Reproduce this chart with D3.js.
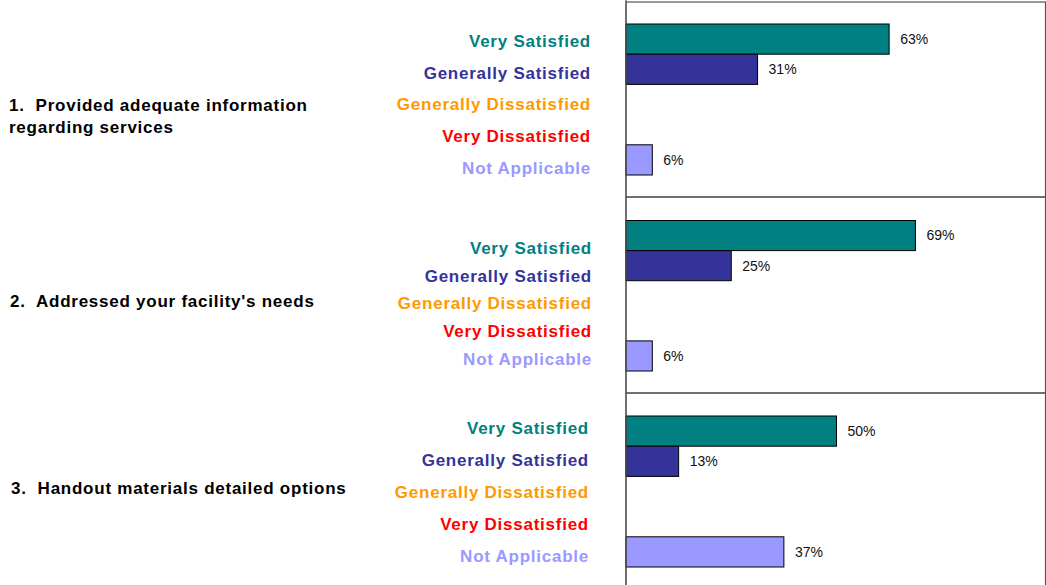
<!DOCTYPE html>
<html>
<head>
<meta charset="utf-8">
<script src="https://cdn.jsdelivr.net/npm/d3@7"></script>
<style>
	body { margin: 0; background: #fff; }
	svg { display: block; font-family: 'Liberation Sans', Arial, sans-serif; }
	.question { white-space: pre; }
</style>
</head>
<body>
<svg id="chart" width="1046" height="585"></svg>
<script>
// answer categories and their colours
var categories = ['Very Satisfied', 'Generally Satisfied', 'Generally Dissatisfied', 'Very Dissatisfied', 'Not Applicable'];
var categoryColors = ['#008080', '#333399', '#ff9900', '#ff0000', '#9999ff'];

var questions = [
	['1.  Provided adequate information', 'regarding services'],
	["2.  Addressed your facility's needs"],
	['3.  Handout materials detailed options']
];

// share of answers (%)
var q1Values = [62.5, 31.25, 0, 0, 6.25];
var q2Values = [68.75, 25, 0, 0, 6.25];
var q3Values = [50, 12.5, 0, 0, 37.5];

// printed value labels
var q1Labels = ['63%', '31%', '', '', '6%'];
var q2Labels = ['69%', '25%', '', '', '6%'];
var q3Labels = ['50%', '13%', '', '', '37%'];

var values = [q1Values, q2Values, q3Values];
var valueLabels = [q1Labels, q2Labels, q3Labels];

// panel layout
var panels = [
	{ top: 2, bottom: 197, bars: [24, 175], labels: [41, 168], labelRight: 591, qx: 9, qy: 116 },
	{ top: 197, bottom: 393, bars: [220.5, 371], labels: [248, 359], labelRight: 592, qx: 10, qy: 301 },
	{ top: 393, bottom: 600, bars: [416, 567], labels: [428, 556], labelRight: 589, qx: 11, qy: 488 }
];

var lineHeight = 22;

var svg = d3.select('#chart');

var x = d3.scaleLinear()
	.domain([0, 100])
	.range([626, 1047]);

panels.forEach(function(p, i) {
	var g = svg.append('g').classed('panel', true);

	var y = d3.scaleBand()
		.domain(categories)
		.range(p.bars);

	var yLabel = d3.scalePoint()
		.domain(categories)
		.range(p.labels);

	// frame
	g.append('rect')
		.attr('x', x(0))
		.attr('y', p.top)
		.attr('width', 1046 - x(0) - 0.5)
		.attr('height', p.bottom - p.top)
		.attr('fill', 'none')
		.attr('stroke', '#555')
		.attr('stroke-width', 1.2);

	// question text
	var lines = questions[i];
	var q = g.append('text')
		.classed('question', true)
		.attr('x', p.qx)
		.attr('y', p.qy - (lines.length - 1) * lineHeight / 2)
		.style('font-size', '17px')
		.style('font-weight', 'bold')
		.style('letter-spacing', '0.75px')
		.attr('fill', '#000');
	lines.forEach(function(line, j) {
		q.append('tspan')
			.attr('x', p.qx)
			.attr('dy', j == 0 ? '0.35em' : lineHeight + 'px')
			.text(line);
	});

	// category labels
	g.selectAll('.cat').data(categories).enter().append('text')
		.classed('cat', true)
		.attr('x', p.labelRight)
		.attr('y', function(d) { return yLabel(d); })
		.attr('dy', '0.35em')
		.attr('text-anchor', 'end')
		.style('font-size', '17px')
		.style('font-weight', 'bold')
		.style('letter-spacing', '0.75px')
		.attr('fill', function(d, k) { return categoryColors[k]; })
		.text(function(d) { return d; });

	var rows = categories.map(function(c, k) {
		return { cat: c, value: values[i][k], label: valueLabels[i][k], color: categoryColors[k] };
	}).filter(function(d) { return d.value > 0; });

	g.selectAll('.bar').data(rows).enter().append('rect')
		.classed('bar', true)
		.attr('x', x(0))
		.attr('y', function(d) { return y(d.cat); })
		.attr('width', function(d) { return x(d.value) - x(0); })
		.attr('height', y.bandwidth())
		.attr('fill', function(d) { return d.color; })
		.attr('stroke', '#000')
		.attr('stroke-width', 1);

	g.selectAll('.val').data(rows).enter().append('text')
		.classed('val', true)
		.attr('x', function(d) { return x(d.value) + 11; })
		.attr('y', function(d) { return y(d.cat) + y.bandwidth() / 2; })
		.attr('dy', '0.35em')
		.style('font-size', '14px')
		.attr('fill', '#111')
		.text(function(d) { return d.label; });
});

// value axis line
svg.append('line')
	.attr('x1', x(0)).attr('x2', x(0))
	.attr('y1', 0).attr('y2', 585)
	.attr('stroke', '#555')
	.attr('stroke-width', 1.2);
</script>
</body>
</html>
